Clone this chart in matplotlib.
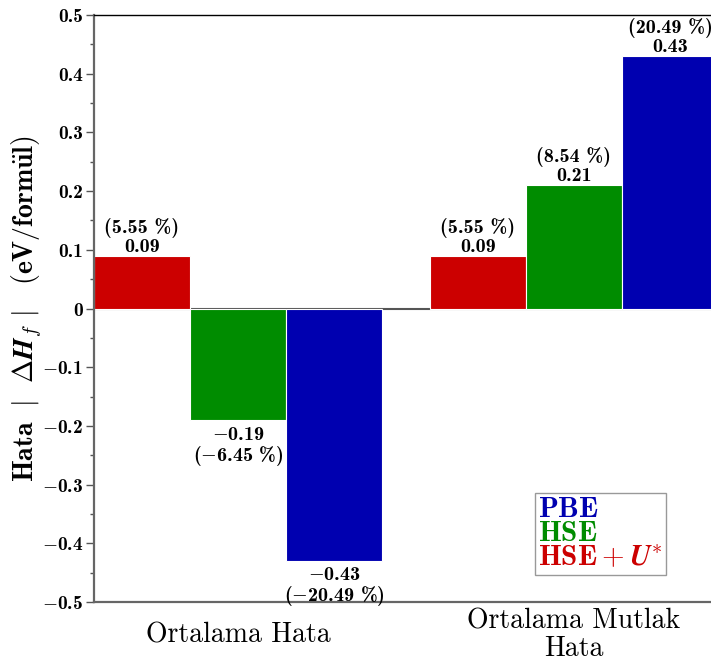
import matplotlib
matplotlib.use('Agg')
import matplotlib.pyplot as plt
import numpy as np
from matplotlib.patches import Patch

plt.rcParams['mathtext.fontset'] = 'cm'
plt.rcParams['font.family'] = ['cmr10', 'DejaVu Serif']
plt.rcParams['axes.unicode_minus'] = False

BOLD = ['cmb10', 'DejaVu Serif']

# Données
categories = ['Ortalama Hata', 'Ortalama Mutlak\nHata']
methods = ['HSE+U', 'HSE', 'PBE']
values = {
    'HSE+U': [0.09, 0.09],
    'HSE': [-0.19, 0.21],
    'PBE': [-0.43, 0.43],
}
percents = {
    'HSE+U': [5.55, 5.55],
    'HSE': [-6.45, 8.54],
    'PBE': [-20.49, 20.49],
}
colors = {'HSE+U': '#cc0000', 'HSE': '#008c00', 'PBE': '#0000b0'}
legend_labels = [r'$\mathbf{PBE}$', r'$\mathbf{HSE}$', r'$\mathbf{HSE} + \mathbfit{U}^{*}$']
legend_colors = ['#0000b0', '#008c00', '#cc0000']
yticks = [-0.5, -0.4, -0.3, -0.2, -0.1, 0, 0.1, 0.2, 0.3, 0.4, 0.5]


def fmt(v, nd):
    # signe moins en mode math (cmb10 n'a pas de vrai signe moins)
    s = f'{abs(v):.{nd}f}'
    return ('$-$' + s) if v < 0 else s


w = 2 / 7
x = np.arange(len(categories))

fig = plt.figure(figsize=(7.11, 6.61), dpi=100)
ax = fig.add_axes([94 / 711, 59 / 661, 624 / 711, 587 / 661])

ax.axhline(0, color='#555555', lw=1.5, zorder=0)

for i, m in enumerate(methods):
    pos = x + (i - 1) * w
    ax.bar(pos, values[m], w, color=colors[m], edgecolor='white', linewidth=0.8, zorder=2)
    for xp, v, p in zip(pos, values[m], percents[m]):
        if v >= 0:
            txt = f'({fmt(p, 2)} %)\n{fmt(v, 2)}'
            ax.annotate(txt, (xp, v), xytext=(0, 0), textcoords='offset points',
                        ha='center', va='bottom', fontsize=14.5, family=BOLD,
                        linespacing=1.0)
        else:
            txt = f'{fmt(v, 2)}\n({fmt(p, 2)} %)'
            ax.annotate(txt, (xp, v), xytext=(0, -4), textcoords='offset points',
                        ha='center', va='top', fontsize=14.5, family=BOLD,
                        linespacing=1.0)

ax.set_xlim(-1.5 * w, 1 + 1.5 * w)
ax.set_ylim(-0.5, 0.5)
ax.set_yticks(yticks)
ax.set_yticklabels(['0' if t == 0 else fmt(t, 1) for t in yticks], fontsize=14, family=BOLD)
ax.set_yticks(np.arange(-0.45, 0.5, 0.1), minor=True)
ax.tick_params(axis='y', which='major', length=6, width=1, color='#555555', pad=2)
ax.tick_params(axis='y', which='minor', length=3, width=1, color='#555555')

ax.set_xticks(x)
ax.set_xticklabels(categories, fontsize=20, linespacing=1.05)
for lbl in ax.get_xticklabels():
    lbl.set_va('center')
ax.tick_params(axis='x', length=0, pad=24)

ax.set_ylabel(r'$\mathbf{Hata\ \ |\ \ \Delta}\mathbfit{H}_{\mathit{f}}\mathbf{\ |\ \ \ (eV/form\ddot{u}l)}$',
              fontsize=20, va='center')
ax.yaxis.set_label_coords((27 - 94) / 624, 0.5)

for s in ['left', 'bottom']:
    ax.spines[s].set_color('#666666')
    ax.spines[s].set_linewidth(1.6)
ax.spines['top'].set_color('black')
ax.spines['top'].set_linewidth(1.0)
ax.spines['right'].set_visible(False)

handles = [Patch(facecolor='none', edgecolor='none') for _ in legend_labels]
ax.legend(handles, legend_labels, loc='lower left', bbox_to_anchor=((535 - 94) / 624, (602 - 575) / 587),
          bbox_transform=ax.transAxes, handlelength=0, handletextpad=0,
          labelcolor=legend_colors, fontsize=21, fancybox=False, edgecolor='#999999',
          framealpha=1, borderpad=0.12, labelspacing=-0.08, borderaxespad=0)

fig.savefig('out.png', dpi=100)
